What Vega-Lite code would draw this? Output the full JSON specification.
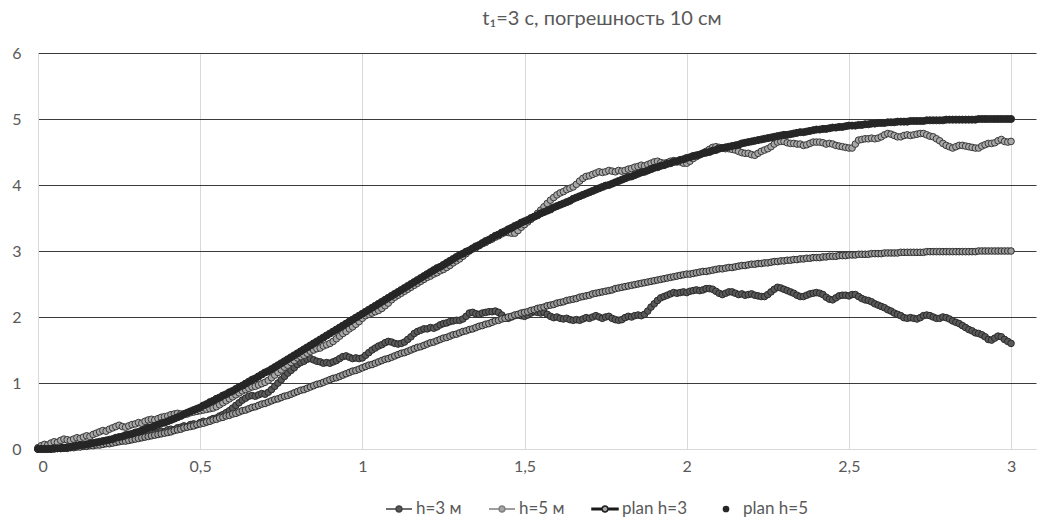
{
"$schema": "https://vega.github.io/schema/vega-lite/v6.json",
"width": 998, "height": 396,
"autosize": {"type": "none"},
"padding": {"left": 38, "top": 53, "right": 5, "bottom": 72},
"background": "white",
"config": {"view": {"stroke": null}, "font": "Lato"},
"title": {"text": "t₁=3 с, погрешность 10 см", "fontSize": 20, "font": "Lato", "fontWeight": "normal", "color": "#595959", "anchor": "middle", "dx": 65, "offset": 16, "frame": "group"},
"data": {"values": [
{"t":0,"a":0,"b":0.02,"c":0,"d":0},
{"t":0.01,"a":0.01,"b":0.05,"c":0,"d":0},
{"t":0.02,"a":0,"b":0.07,"c":0,"d":0},
{"t":0.03,"a":0.01,"b":0.06,"c":0,"d":0},
{"t":0.04,"a":0.02,"b":0.09,"c":0,"d":0},
{"t":0.05,"a":0.01,"b":0.11,"c":0,"d":0.01},
{"t":0.06,"a":0.02,"b":0.1,"c":0.01,"d":0.01},
{"t":0.07,"a":0.03,"b":0.13,"c":0.01,"d":0.01},
{"t":0.08,"a":0.02,"b":0.15,"c":0.01,"d":0.02},
{"t":0.09,"a":0.03,"b":0.14,"c":0.01,"d":0.02},
{"t":0.1,"a":0.04,"b":0.13,"c":0.02,"d":0.03},
{"t":0.11,"a":0.03,"b":0.15,"c":0.02,"d":0.04},
{"t":0.12,"a":0.05,"b":0.17,"c":0.03,"d":0.05},
{"t":0.13,"a":0.06,"b":0.16,"c":0.03,"d":0.06},
{"t":0.14,"a":0.05,"b":0.18,"c":0.04,"d":0.06},
{"t":0.15,"a":0.07,"b":0.2,"c":0.04,"d":0.07},
{"t":0.16,"a":0.08,"b":0.19,"c":0.05,"d":0.08},
{"t":0.17,"a":0.07,"b":0.22,"c":0.05,"d":0.09},
{"t":0.18,"a":0.09,"b":0.24,"c":0.06,"d":0.1},
{"t":0.19,"a":0.1,"b":0.26,"c":0.06,"d":0.11},
{"t":0.2,"a":0.09,"b":0.28,"c":0.07,"d":0.12},
{"t":0.21,"a":0.11,"b":0.27,"c":0.08,"d":0.13},
{"t":0.22,"a":0.12,"b":0.3,"c":0.08,"d":0.14},
{"t":0.23,"a":0.11,"b":0.32,"c":0.09,"d":0.15},
{"t":0.24,"a":0.13,"b":0.34,"c":0.1,"d":0.17},
{"t":0.25,"a":0.14,"b":0.36,"c":0.11,"d":0.18},
{"t":0.26,"a":0.13,"b":0.34,"c":0.12,"d":0.19},
{"t":0.27,"a":0.15,"b":0.33,"c":0.12,"d":0.21},
{"t":0.28,"a":0.17,"b":0.35,"c":0.13,"d":0.22},
{"t":0.29,"a":0.16,"b":0.37,"c":0.14,"d":0.23},
{"t":0.3,"a":0.18,"b":0.38,"c":0.15,"d":0.25},
{"t":0.31,"a":0.19,"b":0.4,"c":0.16,"d":0.26},
{"t":0.32,"a":0.18,"b":0.39,"c":0.17,"d":0.28},
{"t":0.33,"a":0.21,"b":0.42,"c":0.18,"d":0.3},
{"t":0.34,"a":0.22,"b":0.44,"c":0.19,"d":0.32},
{"t":0.35,"a":0.21,"b":0.45,"c":0.2,"d":0.33},
{"t":0.36,"a":0.24,"b":0.44,"c":0.21,"d":0.35},
{"t":0.37,"a":0.25,"b":0.46,"c":0.22,"d":0.37},
{"t":0.38,"a":0.27,"b":0.48,"c":0.23,"d":0.39},
{"t":0.39,"a":0.26,"b":0.49,"c":0.24,"d":0.4},
{"t":0.4,"a":0.29,"b":0.5,"c":0.25,"d":0.42},
{"t":0.41,"a":0.3,"b":0.52,"c":0.26,"d":0.44},
{"t":0.42,"a":0.29,"b":0.53,"c":0.28,"d":0.46},
{"t":0.43,"a":0.32,"b":0.54,"c":0.29,"d":0.48},
{"t":0.44,"a":0.33,"b":0.53,"c":0.3,"d":0.5},
{"t":0.45,"a":0.35,"b":0.52,"c":0.32,"d":0.53},
{"t":0.46,"a":0.34,"b":0.53,"c":0.33,"d":0.55},
{"t":0.47,"a":0.37,"b":0.55,"c":0.34,"d":0.57},
{"t":0.48,"a":0.38,"b":0.56,"c":0.35,"d":0.59},
{"t":0.49,"a":0.37,"b":0.57,"c":0.37,"d":0.61},
{"t":0.5,"a":0.4,"b":0.58,"c":0.38,"d":0.63},
{"t":0.51,"a":0.42,"b":0.59,"c":0.39,"d":0.66},
{"t":0.52,"a":0.41,"b":0.6,"c":0.41,"d":0.68},
{"t":0.53,"a":0.44,"b":0.61,"c":0.42,"d":0.71},
{"t":0.54,"a":0.46,"b":0.62,"c":0.44,"d":0.73},
{"t":0.55,"a":0.47,"b":0.64,"c":0.45,"d":0.76},
{"t":0.56,"a":0.5,"b":0.67,"c":0.47,"d":0.78},
{"t":0.57,"a":0.52,"b":0.7,"c":0.48,"d":0.81},
{"t":0.58,"a":0.55,"b":0.73,"c":0.5,"d":0.83},
{"t":0.59,"a":0.58,"b":0.76,"c":0.51,"d":0.86},
{"t":0.6,"a":0.62,"b":0.79,"c":0.53,"d":0.88},
{"t":0.61,"a":0.66,"b":0.82,"c":0.54,"d":0.91},
{"t":0.62,"a":0.7,"b":0.85,"c":0.56,"d":0.94},
{"t":0.63,"a":0.74,"b":0.88,"c":0.58,"d":0.96},
{"t":0.64,"a":0.77,"b":0.9,"c":0.59,"d":0.99},
{"t":0.65,"a":0.8,"b":0.92,"c":0.61,"d":1.02},
{"t":0.66,"a":0.81,"b":0.94,"c":0.63,"d":1.05},
{"t":0.67,"a":0.8,"b":0.95,"c":0.64,"d":1.07},
{"t":0.68,"a":0.82,"b":0.97,"c":0.66,"d":1.1},
{"t":0.69,"a":0.84,"b":0.99,"c":0.68,"d":1.13},
{"t":0.7,"a":0.83,"b":1.01,"c":0.69,"d":1.16},
{"t":0.71,"a":0.86,"b":1.04,"c":0.71,"d":1.18},
{"t":0.72,"a":0.9,"b":1.08,"c":0.73,"d":1.21},
{"t":0.73,"a":0.95,"b":1.12,"c":0.75,"d":1.24},
{"t":0.74,"a":1,"b":1.16,"c":0.76,"d":1.27},
{"t":0.75,"a":1.05,"b":1.2,"c":0.78,"d":1.3},
{"t":0.76,"a":1.1,"b":1.24,"c":0.8,"d":1.33},
{"t":0.77,"a":1.15,"b":1.27,"c":0.81,"d":1.36},
{"t":0.78,"a":1.19,"b":1.31,"c":0.83,"d":1.39},
{"t":0.79,"a":1.23,"b":1.34,"c":0.85,"d":1.42},
{"t":0.8,"a":1.28,"b":1.38,"c":0.87,"d":1.45},
{"t":0.81,"a":1.31,"b":1.4,"c":0.89,"d":1.48},
{"t":0.82,"a":1.33,"b":1.42,"c":0.9,"d":1.51},
{"t":0.83,"a":1.36,"b":1.45,"c":0.92,"d":1.54},
{"t":0.84,"a":1.37,"b":1.48,"c":0.94,"d":1.57},
{"t":0.85,"a":1.35,"b":1.5,"c":0.96,"d":1.6},
{"t":0.86,"a":1.33,"b":1.52,"c":0.98,"d":1.63},
{"t":0.87,"a":1.32,"b":1.53,"c":0.99,"d":1.66},
{"t":0.88,"a":1.3,"b":1.56,"c":1.01,"d":1.69},
{"t":0.89,"a":1.31,"b":1.58,"c":1.03,"d":1.72},
{"t":0.9,"a":1.3,"b":1.6,"c":1.05,"d":1.75},
{"t":0.91,"a":1.32,"b":1.63,"c":1.07,"d":1.78},
{"t":0.92,"a":1.34,"b":1.67,"c":1.08,"d":1.81},
{"t":0.93,"a":1.37,"b":1.71,"c":1.1,"d":1.84},
{"t":0.94,"a":1.4,"b":1.75,"c":1.12,"d":1.87},
{"t":0.95,"a":1.41,"b":1.78,"c":1.14,"d":1.9},
{"t":0.96,"a":1.39,"b":1.82,"c":1.16,"d":1.93},
{"t":0.97,"a":1.37,"b":1.85,"c":1.18,"d":1.96},
{"t":0.98,"a":1.38,"b":1.89,"c":1.19,"d":1.99},
{"t":0.99,"a":1.37,"b":1.93,"c":1.21,"d":2.02},
{"t":1,"a":1.38,"b":1.98,"c":1.23,"d":2.05},
{"t":1.01,"a":1.42,"b":2.02,"c":1.25,"d":2.08},
{"t":1.02,"a":1.46,"b":2.04,"c":1.27,"d":2.11},
{"t":1.03,"a":1.5,"b":2.06,"c":1.28,"d":2.14},
{"t":1.04,"a":1.53,"b":2.08,"c":1.3,"d":2.17},
{"t":1.05,"a":1.56,"b":2.1,"c":1.32,"d":2.2},
{"t":1.06,"a":1.58,"b":2.13,"c":1.34,"d":2.23},
{"t":1.07,"a":1.61,"b":2.17,"c":1.36,"d":2.26},
{"t":1.08,"a":1.63,"b":2.21,"c":1.37,"d":2.29},
{"t":1.09,"a":1.62,"b":2.26,"c":1.39,"d":2.32},
{"t":1.1,"a":1.6,"b":2.3,"c":1.41,"d":2.35},
{"t":1.11,"a":1.59,"b":2.33,"c":1.43,"d":2.38},
{"t":1.12,"a":1.6,"b":2.36,"c":1.45,"d":2.41},
{"t":1.13,"a":1.62,"b":2.39,"c":1.46,"d":2.44},
{"t":1.14,"a":1.66,"b":2.42,"c":1.48,"d":2.47},
{"t":1.15,"a":1.7,"b":2.45,"c":1.5,"d":2.5},
{"t":1.16,"a":1.75,"b":2.48,"c":1.52,"d":2.53},
{"t":1.17,"a":1.78,"b":2.51,"c":1.54,"d":2.56},
{"t":1.18,"a":1.8,"b":2.54,"c":1.55,"d":2.59},
{"t":1.19,"a":1.82,"b":2.57,"c":1.57,"d":2.62},
{"t":1.2,"a":1.82,"b":2.6,"c":1.59,"d":2.65},
{"t":1.21,"a":1.84,"b":2.62,"c":1.61,"d":2.68},
{"t":1.22,"a":1.83,"b":2.65,"c":1.62,"d":2.71},
{"t":1.23,"a":1.85,"b":2.67,"c":1.64,"d":2.74},
{"t":1.24,"a":1.88,"b":2.7,"c":1.66,"d":2.76},
{"t":1.25,"a":1.9,"b":2.72,"c":1.68,"d":2.79},
{"t":1.26,"a":1.91,"b":2.75,"c":1.69,"d":2.82},
{"t":1.27,"a":1.93,"b":2.78,"c":1.71,"d":2.85},
{"t":1.28,"a":1.94,"b":2.82,"c":1.73,"d":2.88},
{"t":1.29,"a":1.95,"b":2.85,"c":1.74,"d":2.91},
{"t":1.3,"a":1.95,"b":2.88,"c":1.76,"d":2.94},
{"t":1.31,"a":1.97,"b":2.92,"c":1.78,"d":2.96},
{"t":1.32,"a":2.01,"b":2.96,"c":1.79,"d":2.99},
{"t":1.33,"a":2.06,"b":3,"c":1.81,"d":3.01},
{"t":1.34,"a":2.07,"b":3.03,"c":1.82,"d":3.04},
{"t":1.35,"a":2.05,"b":3.05,"c":1.84,"d":3.07},
{"t":1.36,"a":2.04,"b":3.08,"c":1.86,"d":3.09},
{"t":1.37,"a":2.06,"b":3.11,"c":1.87,"d":3.12},
{"t":1.38,"a":2.07,"b":3.13,"c":1.89,"d":3.15},
{"t":1.39,"a":2.08,"b":3.16,"c":1.9,"d":3.17},
{"t":1.4,"a":2.08,"b":3.18,"c":1.92,"d":3.2},
{"t":1.41,"a":2.09,"b":3.21,"c":1.94,"d":3.23},
{"t":1.42,"a":2.07,"b":3.23,"c":1.95,"d":3.25},
{"t":1.43,"a":2.03,"b":3.26,"c":1.97,"d":3.28},
{"t":1.44,"a":1.99,"b":3.28,"c":1.98,"d":3.3},
{"t":1.45,"a":1.98,"b":3.28,"c":2,"d":3.33},
{"t":1.46,"a":2,"b":3.27,"c":2.01,"d":3.35},
{"t":1.47,"a":2.02,"b":3.27,"c":2.03,"d":3.38},
{"t":1.48,"a":2.03,"b":3.31,"c":2.04,"d":3.4},
{"t":1.49,"a":2.02,"b":3.36,"c":2.06,"d":3.43},
{"t":1.5,"a":2.01,"b":3.4,"c":2.07,"d":3.45},
{"t":1.51,"a":2.03,"b":3.44,"c":2.08,"d":3.47},
{"t":1.52,"a":2.06,"b":3.48,"c":2.1,"d":3.5},
{"t":1.53,"a":2.08,"b":3.52,"c":2.11,"d":3.52},
{"t":1.54,"a":2.07,"b":3.57,"c":2.13,"d":3.54},
{"t":1.55,"a":2.06,"b":3.62,"c":2.14,"d":3.57},
{"t":1.56,"a":2.07,"b":3.67,"c":2.15,"d":3.59},
{"t":1.57,"a":2.04,"b":3.72,"c":2.17,"d":3.61},
{"t":1.58,"a":2.01,"b":3.77,"c":2.18,"d":3.63},
{"t":1.59,"a":1.99,"b":3.81,"c":2.19,"d":3.66},
{"t":1.6,"a":2,"b":3.85,"c":2.21,"d":3.68},
{"t":1.61,"a":1.98,"b":3.88,"c":2.22,"d":3.7},
{"t":1.62,"a":1.97,"b":3.9,"c":2.23,"d":3.72},
{"t":1.63,"a":1.98,"b":3.93,"c":2.25,"d":3.74},
{"t":1.64,"a":1.96,"b":3.95,"c":2.26,"d":3.76},
{"t":1.65,"a":1.95,"b":3.97,"c":2.27,"d":3.79},
{"t":1.66,"a":1.96,"b":4.01,"c":2.28,"d":3.81},
{"t":1.67,"a":1.95,"b":4.06,"c":2.3,"d":3.83},
{"t":1.68,"a":1.97,"b":4.1,"c":2.31,"d":3.85},
{"t":1.69,"a":1.99,"b":4.13,"c":2.32,"d":3.87},
{"t":1.7,"a":1.98,"b":4.14,"c":2.33,"d":3.89},
{"t":1.71,"a":2,"b":4.16,"c":2.35,"d":3.91},
{"t":1.72,"a":2.02,"b":4.18,"c":2.36,"d":3.93},
{"t":1.73,"a":2,"b":4.2,"c":2.37,"d":3.95},
{"t":1.74,"a":1.98,"b":4.19,"c":2.38,"d":3.97},
{"t":1.75,"a":2,"b":4.2,"c":2.39,"d":3.99},
{"t":1.76,"a":2.01,"b":4.22,"c":2.4,"d":4},
{"t":1.77,"a":1.98,"b":4.21,"c":2.41,"d":4.02},
{"t":1.78,"a":1.96,"b":4.2,"c":2.43,"d":4.04},
{"t":1.79,"a":1.95,"b":4.22,"c":2.44,"d":4.06},
{"t":1.8,"a":1.96,"b":4.21,"c":2.45,"d":4.08},
{"t":1.81,"a":1.99,"b":4.22,"c":2.46,"d":4.1},
{"t":1.82,"a":2.01,"b":4.24,"c":2.47,"d":4.12},
{"t":1.83,"a":2,"b":4.25,"c":2.48,"d":4.13},
{"t":1.84,"a":2.02,"b":4.27,"c":2.49,"d":4.15},
{"t":1.85,"a":2.03,"b":4.28,"c":2.5,"d":4.17},
{"t":1.86,"a":2.02,"b":4.3,"c":2.51,"d":4.19},
{"t":1.87,"a":2.04,"b":4.29,"c":2.52,"d":4.2},
{"t":1.88,"a":2.09,"b":4.31,"c":2.53,"d":4.22},
{"t":1.89,"a":2.15,"b":4.33,"c":2.54,"d":4.24},
{"t":1.9,"a":2.2,"b":4.35,"c":2.55,"d":4.26},
{"t":1.91,"a":2.25,"b":4.36,"c":2.56,"d":4.27},
{"t":1.92,"a":2.29,"b":4.34,"c":2.57,"d":4.29},
{"t":1.93,"a":2.31,"b":4.33,"c":2.58,"d":4.3},
{"t":1.94,"a":2.33,"b":4.34,"c":2.59,"d":4.32},
{"t":1.95,"a":2.35,"b":4.36,"c":2.6,"d":4.33},
{"t":1.96,"a":2.37,"b":4.37,"c":2.61,"d":4.35},
{"t":1.97,"a":2.36,"b":4.35,"c":2.62,"d":4.36},
{"t":1.98,"a":2.37,"b":4.35,"c":2.63,"d":4.38},
{"t":1.99,"a":2.38,"b":4.33,"c":2.64,"d":4.39},
{"t":2,"a":2.37,"b":4.33,"c":2.65,"d":4.41},
{"t":2.01,"a":2.39,"b":4.36,"c":2.65,"d":4.42},
{"t":2.02,"a":2.4,"b":4.4,"c":2.66,"d":4.44},
{"t":2.03,"a":2.41,"b":4.43,"c":2.67,"d":4.45},
{"t":2.04,"a":2.4,"b":4.46,"c":2.68,"d":4.46},
{"t":2.05,"a":2.41,"b":4.48,"c":2.69,"d":4.48},
{"t":2.06,"a":2.43,"b":4.51,"c":2.69,"d":4.49},
{"t":2.07,"a":2.43,"b":4.54,"c":2.7,"d":4.5},
{"t":2.08,"a":2.42,"b":4.57,"c":2.71,"d":4.52},
{"t":2.09,"a":2.39,"b":4.58,"c":2.72,"d":4.53},
{"t":2.1,"a":2.36,"b":4.57,"c":2.73,"d":4.55},
{"t":2.11,"a":2.34,"b":4.56,"c":2.73,"d":4.56},
{"t":2.12,"a":2.36,"b":4.55,"c":2.74,"d":4.57},
{"t":2.13,"a":2.38,"b":4.55,"c":2.75,"d":4.58},
{"t":2.14,"a":2.38,"b":4.54,"c":2.75,"d":4.59},
{"t":2.15,"a":2.36,"b":4.53,"c":2.76,"d":4.6},
{"t":2.16,"a":2.34,"b":4.51,"c":2.77,"d":4.61},
{"t":2.17,"a":2.35,"b":4.49,"c":2.78,"d":4.63},
{"t":2.18,"a":2.33,"b":4.48,"c":2.78,"d":4.64},
{"t":2.19,"a":2.34,"b":4.48,"c":2.79,"d":4.65},
{"t":2.2,"a":2.35,"b":4.46,"c":2.8,"d":4.66},
{"t":2.21,"a":2.33,"b":4.45,"c":2.8,"d":4.67},
{"t":2.22,"a":2.32,"b":4.48,"c":2.81,"d":4.68},
{"t":2.23,"a":2.31,"b":4.51,"c":2.81,"d":4.69},
{"t":2.24,"a":2.31,"b":4.53,"c":2.82,"d":4.7},
{"t":2.25,"a":2.34,"b":4.55,"c":2.82,"d":4.71},
{"t":2.26,"a":2.38,"b":4.58,"c":2.83,"d":4.72},
{"t":2.27,"a":2.42,"b":4.62,"c":2.84,"d":4.73},
{"t":2.28,"a":2.45,"b":4.65,"c":2.84,"d":4.74},
{"t":2.29,"a":2.44,"b":4.66,"c":2.85,"d":4.75},
{"t":2.3,"a":2.42,"b":4.66,"c":2.85,"d":4.76},
{"t":2.31,"a":2.4,"b":4.64,"c":2.86,"d":4.76},
{"t":2.32,"a":2.38,"b":4.63,"c":2.86,"d":4.77},
{"t":2.33,"a":2.36,"b":4.63,"c":2.87,"d":4.78},
{"t":2.34,"a":2.33,"b":4.62,"c":2.87,"d":4.79},
{"t":2.35,"a":2.31,"b":4.62,"c":2.88,"d":4.8},
{"t":2.36,"a":2.31,"b":4.6,"c":2.88,"d":4.8},
{"t":2.37,"a":2.33,"b":4.61,"c":2.89,"d":4.81},
{"t":2.38,"a":2.35,"b":4.63,"c":2.89,"d":4.82},
{"t":2.39,"a":2.36,"b":4.65,"c":2.9,"d":4.83},
{"t":2.4,"a":2.37,"b":4.65,"c":2.9,"d":4.84},
{"t":2.41,"a":2.36,"b":4.65,"c":2.9,"d":4.84},
{"t":2.42,"a":2.34,"b":4.64,"c":2.91,"d":4.85},
{"t":2.43,"a":2.3,"b":4.62,"c":2.91,"d":4.85},
{"t":2.44,"a":2.27,"b":4.63,"c":2.92,"d":4.86},
{"t":2.45,"a":2.26,"b":4.62,"c":2.92,"d":4.87},
{"t":2.46,"a":2.29,"b":4.6,"c":2.92,"d":4.87},
{"t":2.47,"a":2.32,"b":4.59,"c":2.93,"d":4.88},
{"t":2.48,"a":2.33,"b":4.58,"c":2.93,"d":4.88},
{"t":2.49,"a":2.33,"b":4.57,"c":2.93,"d":4.89},
{"t":2.5,"a":2.32,"b":4.56,"c":2.94,"d":4.9},
{"t":2.51,"a":2.34,"b":4.56,"c":2.94,"d":4.9},
{"t":2.52,"a":2.34,"b":4.62,"c":2.94,"d":4.9},
{"t":2.53,"a":2.31,"b":4.68,"c":2.95,"d":4.91},
{"t":2.54,"a":2.28,"b":4.69,"c":2.95,"d":4.91},
{"t":2.55,"a":2.26,"b":4.7,"c":2.95,"d":4.92},
{"t":2.56,"a":2.25,"b":4.7,"c":2.95,"d":4.92},
{"t":2.57,"a":2.23,"b":4.71,"c":2.96,"d":4.93},
{"t":2.58,"a":2.2,"b":4.7,"c":2.96,"d":4.93},
{"t":2.59,"a":2.18,"b":4.71,"c":2.96,"d":4.94},
{"t":2.6,"a":2.16,"b":4.73,"c":2.96,"d":4.94},
{"t":2.61,"a":2.14,"b":4.76,"c":2.97,"d":4.94},
{"t":2.62,"a":2.11,"b":4.78,"c":2.97,"d":4.95},
{"t":2.63,"a":2.09,"b":4.77,"c":2.97,"d":4.95},
{"t":2.64,"a":2.06,"b":4.75,"c":2.97,"d":4.95},
{"t":2.65,"a":2.04,"b":4.73,"c":2.97,"d":4.96},
{"t":2.66,"a":2.02,"b":4.73,"c":2.98,"d":4.96},
{"t":2.67,"a":1.99,"b":4.75,"c":2.98,"d":4.96},
{"t":2.68,"a":1.98,"b":4.76,"c":2.98,"d":4.96},
{"t":2.69,"a":1.99,"b":4.75,"c":2.98,"d":4.97},
{"t":2.7,"a":1.98,"b":4.76,"c":2.98,"d":4.97},
{"t":2.71,"a":1.97,"b":4.77,"c":2.98,"d":4.97},
{"t":2.72,"a":1.99,"b":4.78,"c":2.98,"d":4.97},
{"t":2.73,"a":2.02,"b":4.78,"c":2.98,"d":4.97},
{"t":2.74,"a":2.03,"b":4.76,"c":2.99,"d":4.98},
{"t":2.75,"a":2.02,"b":4.74,"c":2.99,"d":4.98},
{"t":2.76,"a":2,"b":4.73,"c":2.99,"d":4.98},
{"t":2.77,"a":1.98,"b":4.7,"c":2.99,"d":4.98},
{"t":2.78,"a":1.98,"b":4.67,"c":2.99,"d":4.98},
{"t":2.79,"a":2,"b":4.63,"c":2.99,"d":4.98},
{"t":2.8,"a":1.99,"b":4.6,"c":2.99,"d":4.99},
{"t":2.81,"a":1.97,"b":4.58,"c":2.99,"d":4.99},
{"t":2.82,"a":1.94,"b":4.56,"c":2.99,"d":4.99},
{"t":2.83,"a":1.92,"b":4.58,"c":2.99,"d":4.99},
{"t":2.84,"a":1.9,"b":4.6,"c":2.99,"d":4.99},
{"t":2.85,"a":1.87,"b":4.6,"c":2.99,"d":4.99},
{"t":2.86,"a":1.84,"b":4.59,"c":2.99,"d":4.99},
{"t":2.87,"a":1.81,"b":4.58,"c":2.99,"d":4.99},
{"t":2.88,"a":1.79,"b":4.57,"c":2.99,"d":4.99},
{"t":2.89,"a":1.76,"b":4.56,"c":2.99,"d":4.99},
{"t":2.9,"a":1.75,"b":4.56,"c":3,"d":5},
{"t":2.91,"a":1.73,"b":4.59,"c":3,"d":5},
{"t":2.92,"a":1.7,"b":4.61,"c":3,"d":5},
{"t":2.93,"a":1.66,"b":4.63,"c":3,"d":5},
{"t":2.94,"a":1.65,"b":4.63,"c":3,"d":5},
{"t":2.95,"a":1.68,"b":4.64,"c":3,"d":5},
{"t":2.96,"a":1.71,"b":4.67,"c":3,"d":5},
{"t":2.97,"a":1.7,"b":4.69,"c":3,"d":5},
{"t":2.98,"a":1.66,"b":4.66,"c":3,"d":5},
{"t":2.99,"a":1.63,"b":4.65,"c":3,"d":5},
{"t":3,"a":1.6,"b":4.66,"c":3,"d":5}
]},
"transform": [{"fold": ["a", "b", "c", "d"], "as": ["s", "v"]}],
"encoding": {
  "x": {"field": "t", "type": "quantitative", "scale": {"domain": [0, 3.077], "nice": false, "zero": false},
    "axis": {"values": [0, 0.5, 1, 1.5, 2, 2.5, 3], "format": "~g", "labelExpr": "replace(datum.label, '.', ',')", "title": null, "grid": true, "gridColor": "#d9d9d9", "gridWidth": 1, "ticks": false, "domainColor": "#d9d9d9", "domainWidth": 1, "labelColor": "#595959", "labelFontSize": 16, "labelFont": "Lato", "labelPadding": 9}},
  "y": {"field": "v", "type": "quantitative", "scale": {"domain": [0, 6], "nice": false},
    "axis": {"values": [0, 1, 2, 3, 4, 5, 6], "title": null, "grid": true, "gridColor": {"condition": {"test": "datum.value === 0", "value": "#d9d9d9"}, "value": "#3a3a3a"}, "gridWidth": 1.2, "ticks": false, "domainColor": "#d9d9d9", "domainWidth": 1, "labelColor": "#595959", "labelFontSize": 16, "labelFont": "Lato", "labelPadding": 17}}
},
"layer": [
  {"transform": [{"filter": "datum.t === 0"}],
   "mark": {"type": "point", "filled": true, "clip": true, "opacity": 1, "strokeWidth": 1.2},
   "encoding": {
     "x": {"datum": -1, "type": "quantitative"},
     "y": {"datum": -1, "type": "quantitative"},
     "shape": {"field": "s", "type": "nominal", "scale": {"domain": ["a", "b", "c", "d"], "range": [
        "M-1,0H-0.23M0.23,0H1M0.23,0A0.23,0.23,0,1,1,-0.23,0A0.23,0.23,0,1,1,0.23,0Z",
        "M-1,0H-0.23M0.23,0H1M0.23,0A0.23,0.23,0,1,1,-0.23,0A0.23,0.23,0,1,1,0.23,0Z",
        "M-1,-0.05H-0.23V0.05H-1ZM0.23,-0.05H1V0.05H0.23ZM0.23,0A0.23,0.23,0,1,1,-0.23,0A0.23,0.23,0,1,1,0.23,0Z",
        "M0.2,0A0.2,0.2,0,1,1,-0.2,0A0.2,0.2,0,1,1,0.2,0Z"]},
       "legend": {"title": null, "orient": "none", "legendX": 347, "legendY": 442, "direction": "horizontal", "symbolSize": 676, "labelFontSize": 17, "labelFont": "Lato", "labelColor": "#595959", "labelOffset": 3, "columnPadding": 24, "labelExpr": "{'a': 'h=3 м', 'b': 'h=5 м', 'c': 'plan h=3', 'd': 'plan h=5'}[datum.label]"}},
     "fill": {"field": "s", "type": "nominal", "scale": {"domain": ["a", "b", "c", "d"], "range": ["#595959", "#a6a6a6", "#a6a6a6", "#262626"]}},
     "stroke": {"field": "s", "type": "nominal", "scale": {"domain": ["a", "b", "c", "d"], "range": ["#404040", "#7f7f7f", "#1a1a1a", "#262626"]}}
   }},
  {"transform": [{"filter": "datum.s === 'a'"}], "mark": {"type": "line", "stroke": "#404040", "strokeWidth": 1}},
  {"transform": [{"filter": "datum.s === 'a'"}], "mark": {"type": "point", "filled": true, "opacity": 1, "size": 44, "fill": "#5a5a5a", "stroke": "#2a2a2a", "strokeWidth": 1}},
  {"transform": [{"filter": "datum.s === 'b'"}], "mark": {"type": "line", "stroke": "#7f7f7f", "strokeWidth": 1}},
  {"transform": [{"filter": "datum.s === 'b'"}], "mark": {"type": "point", "filled": true, "opacity": 1, "size": 44, "fill": "#a8a8a8", "stroke": "#3a3a3a", "strokeWidth": 1}},
  {"transform": [{"filter": "datum.s === 'c'"}], "mark": {"type": "line", "stroke": "#1a1a1a", "strokeWidth": 2}},
  {"transform": [{"filter": "datum.s === 'c'"}], "mark": {"type": "point", "filled": true, "opacity": 1, "size": 44, "fill": "#9a9a9a", "stroke": "#2e2e2e", "strokeWidth": 1}},
  {"transform": [{"filter": "datum.s === 'd'"}], "mark": {"type": "point", "filled": true, "opacity": 1, "size": 50, "fill": "#262626", "stroke": "#262626", "strokeWidth": 1}}
]
}
